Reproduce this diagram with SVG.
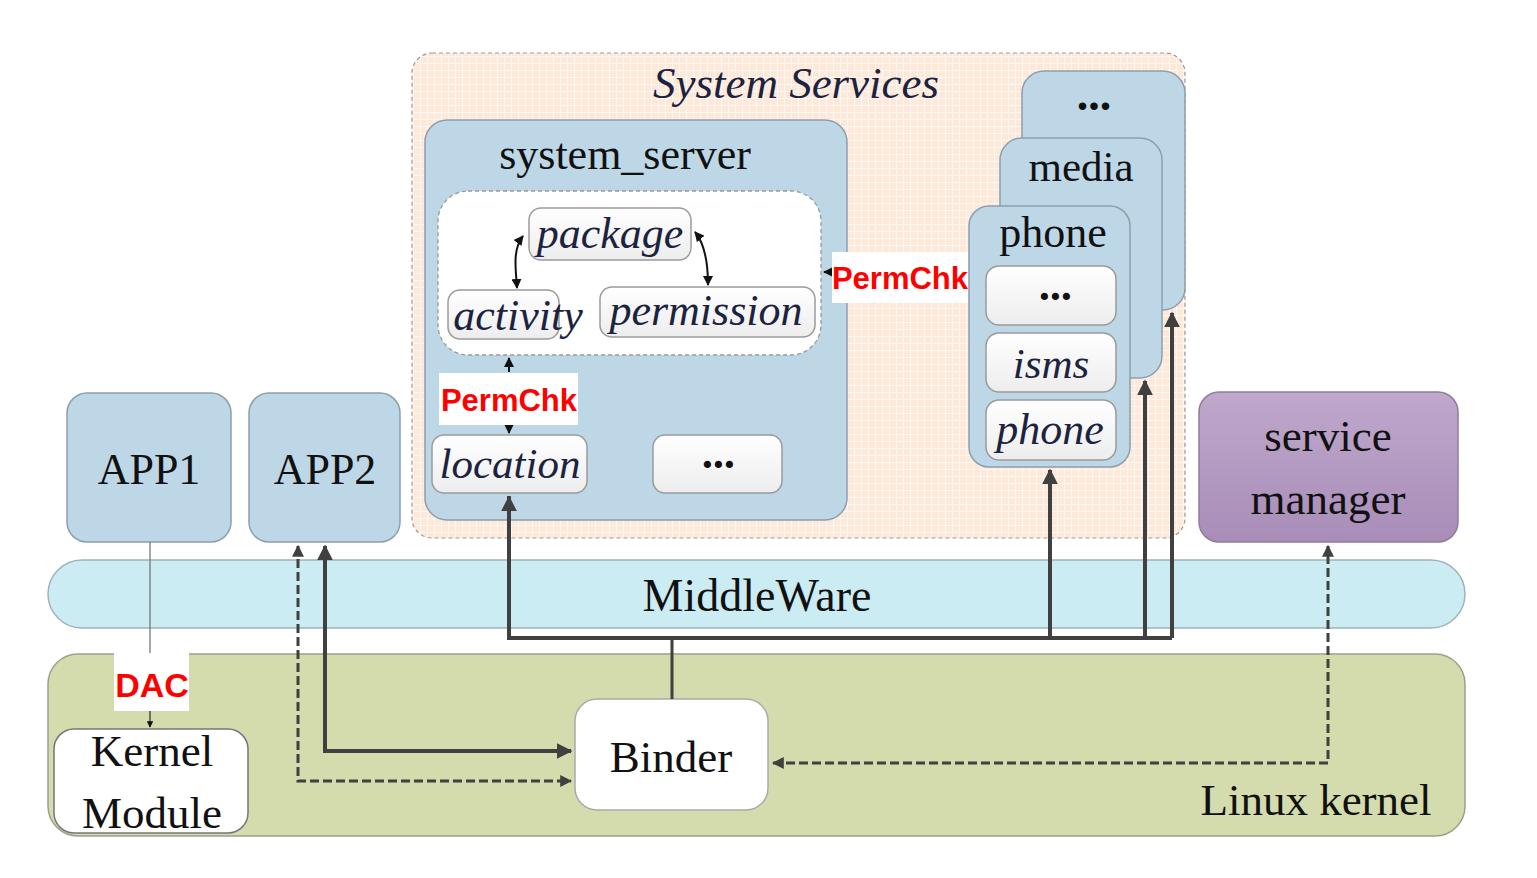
<svg xmlns="http://www.w3.org/2000/svg" width="1537" height="878" viewBox="0 0 1537 878">
<defs>
<style>
.serif{font-family:"Liberation Serif","Times New Roman",serif;fill:#111;text-anchor:middle}
.it{font-family:"Liberation Serif","Times New Roman",serif;font-style:italic;fill:#1c2340;text-anchor:middle}
.red{font-family:"Liberation Sans",Arial,sans-serif;font-weight:bold;fill:#ff0000;text-anchor:middle}
.dots{font-family:"Liberation Serif","Times New Roman",serif;font-weight:bold;font-style:italic;fill:#111;text-anchor:middle}
.blue{fill:#bed7e6;stroke:#8d9fad;stroke-width:1.5}
.wbox{fill:url(#wg);stroke:#9a9a9a;stroke-width:1.5}
.bus{fill:none;stroke:#404040;stroke-width:4}
.dash{fill:none;stroke:#404040;stroke-width:3;stroke-dasharray:9 4}
.thin{fill:none;stroke:#111;stroke-width:2}
</style>
<linearGradient id="wg" x1="0" y1="0" x2="0" y2="1"><stop offset="0" stop-color="#ffffff"/><stop offset="1" stop-color="#ededed"/></linearGradient>
<linearGradient id="pg" x1="0" y1="0" x2="0" y2="1"><stop offset="0" stop-color="#bfa8cc"/><stop offset="1" stop-color="#a88db8"/></linearGradient>
<pattern id="grid" width="7" height="7" patternUnits="userSpaceOnUse"><rect width="7" height="7" fill="#fde9da"/><path d="M0 0.5H7M0.5 0V7" stroke="#fff6ef" stroke-width="1"/></pattern>
<marker id="ah" viewBox="0 0 10 10" refX="9" refY="5" markerWidth="4" markerHeight="4" orient="auto-start-reverse" markerUnits="strokeWidth"><path d="M0 0L10 5L0 10z" fill="#404040"/></marker>
<marker id="ahs" viewBox="0 0 10 10" refX="9" refY="5" markerWidth="5" markerHeight="5" orient="auto-start-reverse" markerUnits="strokeWidth"><path d="M0 0L10 5L0 10z" fill="#111"/></marker>
</defs>
<rect width="1537" height="878" fill="#ffffff"/>

<g id="linux-kernel">
<rect x="48" y="654" width="1417" height="182" rx="30" fill="#d4dbad" stroke="#9ca08a" stroke-width="1.5"/>
<text class="serif" x="1316" y="815" font-size="45">Linux kernel</text>
</g>
<g id="middleware">
<rect x="48" y="560" width="1417" height="68" rx="34" fill="#cbecf3" stroke="#9fb3b8" stroke-width="1.5"/>
<text class="serif" x="757" y="611" font-size="46">MiddleWare</text>
</g>

<g id="system-services">
<rect x="412" y="53" width="773" height="485" rx="20" fill="url(#grid)" stroke="#9a9a9a" stroke-width="1.2" stroke-dasharray="4 3"/>
<text class="it" x="796" y="98" font-size="45" fill="#222">System Services</text>
</g>

<g id="system-server">
<rect class="blue" x="425" y="120" width="422" height="400" rx="22"/>
<text class="serif" x="625" y="169" font-size="44">system_server</text>
<rect x="438" y="191" width="383" height="164" rx="30" fill="#fff" stroke="#999" stroke-width="1.3" stroke-dasharray="4 3"/>
</g>
<g id="package"><rect class="wbox" x="529" y="208" width="162" height="52" rx="12"/><text class="it" x="610" y="248" font-size="44">package</text></g>
<g id="activity"><rect class="wbox" x="448" y="290" width="111" height="49" rx="12"/><text class="it" x="518" y="330" font-size="44">activity</text></g>
<g id="permission"><rect class="wbox" x="600" y="287" width="215" height="50" rx="12"/><text class="it" x="706" y="325" font-size="44">permission</text></g>
<g id="location"><rect class="wbox" x="432" y="435" width="155" height="58" rx="12"/><text class="it" x="510" y="478" font-size="43">location</text></g>
<g id="ss-more"><rect class="wbox" x="653" y="435" width="129" height="58" rx="12"/><text class="dots" x="720" y="468" font-size="44">...</text></g>

<g id="more-service"><rect class="blue" x="1022" y="71" width="163" height="239" rx="22"/><text class="serif" x="1094" y="110" font-size="46" font-weight="bold">...</text></g>
<g id="media"><rect class="blue" x="1000" y="138" width="162" height="240" rx="22"/><text class="serif" x="1081" y="181" font-size="43">media</text></g>
<g id="phone-proc">
<rect class="blue" x="969" y="206" width="161" height="261" rx="20"/>
<text class="serif" x="1053" y="247" font-size="44">phone</text>
</g>
<g id="phone-more"><rect class="wbox" x="986" y="266" width="130" height="59" rx="13"/><text class="dots" x="1057" y="300" font-size="44">...</text></g>
<g id="isms"><rect class="wbox" x="986" y="333" width="130" height="59" rx="13"/><text class="it" x="1051" y="378" font-size="43">isms</text></g>
<g id="phone-svc"><rect class="wbox" x="986" y="400" width="130" height="60" rx="13"/><text class="it" x="1050" y="444" font-size="44">phone</text></g>

<g id="app1"><rect class="blue" x="67" y="393" width="164" height="149" rx="20"/><text class="serif" x="149" y="484" font-size="44">APP1</text></g>
<g id="app2"><rect class="blue" x="249" y="393" width="151" height="149" rx="20"/><text class="serif" x="325" y="484" font-size="44">APP2</text></g>
<g id="service-manager"><rect x="1199" y="392" width="259" height="150" rx="20" fill="url(#pg)" stroke="#8f7d9a" stroke-width="1.5"/><text class="serif" x="1328" y="451" font-size="45">service</text><text class="serif" x="1328" y="514" font-size="45">manager</text></g>
<g id="kernel-module"><rect x="54" y="729" width="194" height="104" rx="20" fill="#fff" stroke="#777" stroke-width="1.5"/><text class="serif" x="152" y="766" font-size="45">Kernel</text><text class="serif" x="152" y="828" font-size="45">Module</text></g>
<g id="binder"><rect x="575" y="699" width="193" height="111" rx="22" fill="#fff" stroke="#aaa" stroke-width="1.5"/><text class="serif" x="671" y="772" font-size="45">Binder</text></g>

<g id="connectors">
<path class="thin" d="M523 236C512 250 516 270 517 288" marker-start="url(#ahs)" marker-end="url(#ahs)"/>
<path class="thin" d="M695 232C705 244 708 266 708 285" marker-start="url(#ahs)" marker-end="url(#ahs)"/>
<path class="thin" d="M509 372V358" marker-end="url(#ahs)"/>
<path class="thin" d="M509 426V433" marker-end="url(#ahs)"/>
<path class="thin" d="M832 272H824" marker-end="url(#ahs)"/>
<path d="M150 542V653" fill="none" stroke="#777" stroke-width="1.3"/>
<path d="M150 711V727" fill="none" stroke="#333" stroke-width="1.3" marker-end="url(#ahs)"/>
<path class="bus" d="M509 496V638H1172"/>
<path class="bus" d="M509 638V497" marker-end="url(#ah)"/>
<path class="bus" d="M1050 638V470" marker-end="url(#ah)"/>
<path class="bus" d="M1145 638V381" marker-end="url(#ah)"/>
<path class="bus" d="M1172 638V313" marker-end="url(#ah)"/>
<path d="M672 640V699" fill="none" stroke="#404040" stroke-width="3"/>
<path class="bus" d="M325 546V751H571" marker-start="url(#ah)" marker-end="url(#ah)"/>
<path class="dash" d="M298 546V781H571" marker-start="url(#ah)" marker-end="url(#ah)"/>
<path class="dash" d="M773 763H1328V546" marker-start="url(#ah)" marker-end="url(#ah)"/>
</g>

<g id="labels">
<rect x="439" y="373" width="139" height="52" fill="#fff"/>
<text class="red" x="509" y="411" font-size="31">PermChk</text>
<rect x="832" y="252" width="136" height="51" fill="#fff"/>
<text class="red" x="900" y="289" font-size="31">PermChk</text>
<rect x="114" y="653" width="75" height="58" fill="#fff"/>
<text class="red" x="152" y="697" font-size="34">DAC</text>
</g>
</svg>
